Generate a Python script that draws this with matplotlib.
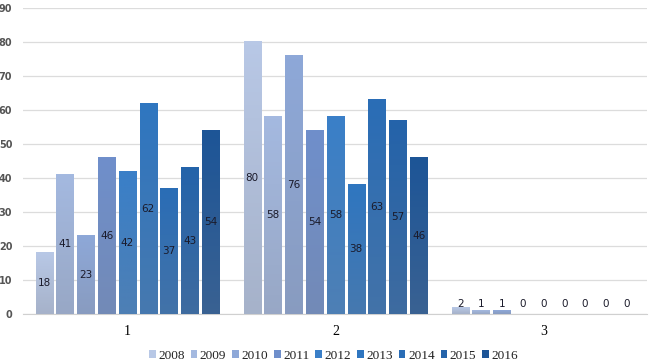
import numpy as np
import matplotlib
matplotlib.use('Agg')
import matplotlib.pyplot as plt
from matplotlib.colors import to_rgb

# data
groups = [1, 2, 3]
years = ['2008', '2009', '2010', '2011', '2012', '2013', '2014', '2015', '2016']
values = {
    '2008': [18, 80, 2],
    '2009': [41, 58, 1],
    '2010': [23, 76, 1],
    '2011': [46, 54, 0],
    '2012': [42, 58, 0],
    '2013': [62, 38, 0],
    '2014': [37, 63, 0],
    '2015': [43, 57, 0],
    '2016': [54, 46, 0],
}
colors = ['#b8c8e6', '#a4b9e0', '#8ea8d8', '#6f8fcb', '#3a7fc8',
          '#2f76c0', '#2a6db6', '#2463aa', '#1d5597']

fig = plt.figure(figsize=(6.5, 3.61), dpi=100)
ax = fig.add_axes([0.036, 0.130, 0.960, 0.848])

step = 0.1
width = 0.082
grey = np.array(to_rgb('#7c7f88'))

for i, yr in enumerate(years):
    xs = np.array(groups) + (i - 4) * step
    bars = ax.bar(xs, values[yr], width, color=colors[i], label=yr, zorder=2)
    top = np.array(to_rgb(colors[i]))
    bot = top * 0.7 + grey * 0.3
    grad = np.linspace(0, 1, 64)[:, None, None]
    img = bot * (1 - grad) + top * grad  # row 0 = bottom with origin='lower'
    for rect, v in zip(bars, values[yr]):
        x0 = rect.get_x()
        h = rect.get_height()
        if h > 0:
            ax.imshow(img, extent=[x0, x0 + rect.get_width(), 0, h],
                      origin='lower', aspect='auto', zorder=3)
        ypos = h / 2 if h > 6 else 3
        ax.text(x0 + rect.get_width() / 2, ypos, str(v), ha='center', va='center',
                fontsize=7.5, color='#1a1a2a', zorder=4)

ax.set_xlim(0.5, 3.5)
ax.set_ylim(0, 90)
ax.set_yticks(np.arange(0, 91, 10))
ax.set_xticks(groups)
ax.set_xticklabels([str(g) for g in groups], fontfamily='Liberation Serif', fontsize=10)
for lab in ax.get_yticklabels():
    lab.set_fontsize(7)
    lab.set_fontweight('bold')
    lab.set_color('#555555')
ax.tick_params(axis='both', length=0)
ax.tick_params(axis='y', pad=8)
ax.tick_params(axis='x', pad=8)
ax.grid(axis='y', color='#dcdcdc', linewidth=0.9, zorder=0)
ax.set_axisbelow(True)
for s in ['top', 'right', 'left']:
    ax.spines[s].set_visible(False)
ax.spines['bottom'].set_color('#d0d0d0')

leg = ax.legend(loc='lower center', bbox_to_anchor=(0.497, -0.195), ncol=9, frameon=False,
                fontsize=9.5, handlelength=0.5, handleheight=0.5,
                handletextpad=0.2, columnspacing=0.45)
for t in leg.get_texts():
    t.set_fontfamily('Liberation Serif')
    t.set_color('#222222')

plt.savefig('out.png', dpi=100)
